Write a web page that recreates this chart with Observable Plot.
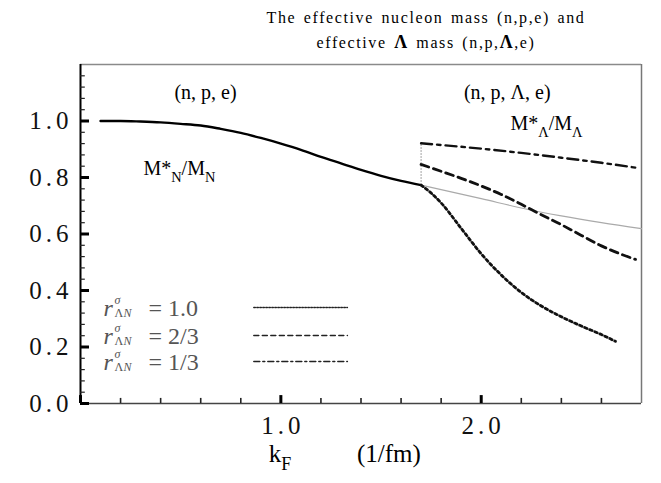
<!DOCTYPE html>
<html><head><meta charset="utf-8">
<script src="https://cdn.jsdelivr.net/npm/d3@7"></script>
<script src="https://cdn.jsdelivr.net/npm/@observablehq/plot@0.6"></script>
<style>
body{margin:0;background:#fff;}
#wrap{position:relative;width:661px;height:483px;overflow:hidden;}
#title{position:absolute;left:0;top:6px;width:661px;padding-left:191px;box-sizing:border-box;text-align:center;font-family:"Liberation Serif",serif;font-size:16px;letter-spacing:1.6px;word-spacing:2px;line-height:24px;color:#000;z-index:2}
#title b{font-size:18px}
#chart{position:absolute;left:0;top:0}
g[aria-label="y-axis tick label"] text, g[aria-label="x-axis tick label"] text{letter-spacing:4px}
g[aria-label="annot"] text{letter-spacing:1.5px}
g[aria-label="axis title"] text{letter-spacing:2px}
g[aria-label="legend"] text{letter-spacing:0.6px}
</style></head><body>
<div id="wrap"><div id="title">The effective nucleon mass (n,p,e) and<br>effective <b>Λ</b> mass (n,p,<b>Λ</b>,e)</div><div id="chart"></div></div>
<script>
// ---- data (k_F in 1/fm, effective mass ratios) ----
const nucleonK = [0.1,0.2,0.3,0.4,0.5,0.6,0.7,0.8,0.9,1.0,1.1,1.2,1.3,1.4,1.5,1.6,1.7];
const nucleonM = [1.000,1.000,0.998,0.995,0.990,0.984,0.972,0.958,0.940,0.920,0.898,0.873,0.850,0.827,0.806,0.788,0.773];
const npeContK = [1.7,1.8,1.9,2.0,2.2,2.4,2.6,2.8];
const npeContM = [0.773,0.757,0.741,0.725,0.692,0.664,0.640,0.619];
const lamK1 = [1.70,1.75,1.80,1.90,2.00,2.10,2.20,2.30,2.40,2.50,2.60,2.67];
const lamM1 = [0.773,0.745,0.710,0.620,0.530,0.455,0.393,0.345,0.307,0.274,0.244,0.220];
const lamK23 = [1.7,1.8,1.9,2.0,2.1,2.2,2.3,2.4,2.5,2.6,2.7,2.77];
const lamM23 = [0.846,0.822,0.797,0.770,0.740,0.705,0.668,0.633,0.595,0.558,0.528,0.510];
const lamK13 = [1.7,2.0,2.2,2.4,2.6,2.77];
const lamM13 = [0.921,0.902,0.887,0.870,0.852,0.835];
const thresholdK = [1.7];
const thresholdM = [0.773, 0.921];
const legendLabels = ["= 1.0","= 2/3","= 1/3"];
const legendY = [0.340,0.241,0.149];
const legendLineX = [0.865,1.332];
const yLabelTicks = [0,0.2,0.4,0.6,0.8,1.0];
const yMinorTicks = [0.04,0.08,0.12,0.16,0.24,0.28,0.32,0.36,0.44,0.48,0.52,0.56,0.64,0.68,0.72,0.76,0.84,0.88,0.92,0.96,1.04,1.08,1.12,1.16];
const xLabelTicks = [1.0,2.0];
const xMajorTicks = [0,1.0,2.0];
const xMinorTicks = [0.2,0.4,0.6,0.8,1.2,1.4,1.6,1.8,2.2,2.4,2.6];

const pts = (K, M) => K.map((k, i) => ({k, m: M[i]}));
const serif = "Liberation Serif, serif";

function rich(fs) {
  return (index, scales, values, dims, ctx, next) => {
    const g = next(index, scales, values, dims, ctx);
    g.querySelectorAll("text").forEach(t => {
      const s = t.textContent; t.textContent = "";
      const re = /_\{([^}]*)\}|\^\{([^}]*)\}|([^_^]+)/g;
      let m, shift = 0;
      while ((m = re.exec(s))) {
        const ts = document.createElementNS("http://www.w3.org/2000/svg", "tspan");
        let target = 0;
        if (m[1] != null) { ts.textContent = m[1]; ts.setAttribute("font-size", fs * 0.72); target = fs * 0.35; }
        else if (m[2] != null) { ts.textContent = m[2]; ts.setAttribute("font-size", fs * 0.72); target = -fs * 0.4; }
        else { ts.textContent = m[3]; }
        ts.setAttribute("dy", target - shift); shift = target;
        t.appendChild(ts);
      }
    });
    return g;
  };
}

const legendData = legendLabels.map((l, i) => ({l, y: legendY[i]}));
const legendDash = ["1.5,1.5", "5,3.5", "6,3,2,3"];
const legendLines = legendY.flatMap((y, i) => legendLineX.map(x => ({x, y, s: i})));
const lg = {x: 0.115, y: "y", textAnchor: "start", fontFamily: serif, fill: "#555", ariaLabel: "legend"};

const chart = Plot.plot({
  width: 661, height: 483,
  marginLeft: 80, marginRight: 20, marginTop: 64, marginBottom: 80,
  x: {domain: [0, 2.8]},
  y: {domain: [0, 1.2]},
  style: {background: "transparent"},
  marks: [
    // frame
    Plot.ruleY([1.2], {stroke: "#8a8a8a", strokeWidth: 1.5}),
    Plot.ruleX([2.8], {stroke: "#777", strokeWidth: 1.5}),
    Plot.ruleY([0], {stroke: "#444", strokeWidth: 1.6}),
    Plot.ruleX([0], {stroke: "#000", strokeWidth: 2}),
    // ticks (inward)
    Plot.ruleY(yMinorTicks, {y: d => d, x1: 0, x2: 0.024, stroke: "#222", strokeWidth: 1.2}),
    Plot.ruleY(yLabelTicks, {y: d => d, x1: 0, x2: 0.045, stroke: "#000", strokeWidth: 3}),
    Plot.ruleX(xMinorTicks, {x: d => d, y1: 0, y2: 0.018, stroke: "#222", strokeWidth: 1.6}),
    Plot.ruleX(xMajorTicks, {x: d => d, y1: 0, y2: 0.028, stroke: "#000", strokeWidth: 3}),
    Plot.axisY(yLabelTicks, {tickSize: 0, tickPadding: 8, tickFormat: d3.format(".1f"), fontSize: 25, fontFamily: serif, fill: "#111", label: null}),
    Plot.axisX(xLabelTicks, {tickSize: 0, tickPadding: 13, tickFormat: d3.format(".1f"), fontSize: 25, fontFamily: serif, fill: "#111", label: null, dx: 2}),
    Plot.text(["k_{F}"], {x: 0.94, frameAnchor: "bottom", dy: 58, textAnchor: "start", fontSize: 25, fontFamily: serif, ariaLabel: "axis title", render: rich(25)}),
    Plot.text(["(1/fm)"], {x: 1.38, frameAnchor: "bottom", dy: 58, textAnchor: "start", fontSize: 25, fontFamily: serif, ariaLabel: "axis title"}),
    // curves
    Plot.line(pts(npeContK, npeContM), {x: "k", y: "m", stroke: "#aaa", strokeWidth: 1.2, curve: "monotone-x"}),
    Plot.ruleX(thresholdK, {x: d => d, y1: thresholdM[0], y2: thresholdM[1], stroke: "#999", strokeWidth: 1.2, strokeDasharray: "1.5,1.5"}),
    Plot.line(pts(nucleonK, nucleonM), {x: "k", y: "m", stroke: "#000", strokeWidth: 2.4, curve: "monotone-x"}),
    Plot.line(pts(lamK1, lamM1), {x: "k", y: "m", stroke: "#111", strokeWidth: 2.8, strokeDasharray: "2.5,3", curve: "monotone-x"}),
    Plot.line(pts(lamK23, lamM23), {x: "k", y: "m", stroke: "#111", strokeWidth: 2.8, strokeDasharray: "8,5", curve: "monotone-x"}),
    Plot.line(pts(lamK13, lamM13), {x: "k", y: "m", stroke: "#111", strokeWidth: 2.4, strokeDasharray: "11,5,3.5,5", curve: "monotone-x"}),
    // annotations
    Plot.text(["(n, p, e)"], {x: 0.624, y: 1.099, fontSize: 20, fontFamily: serif, ariaLabel: "annot"}),
    Plot.text(["(n, p, Λ, e)"], {x: 2.13, y: 1.099, fontSize: 20, fontFamily: serif, ariaLabel: "annot"}),
    Plot.text(["M*_{N}/M_{N}"], {x: 0.314, y: 0.83, textAnchor: "start", fontSize: 20, fontFamily: serif, ariaLabel: "annot", render: rich(20)}),
    Plot.text(["M*_{Λ}/M_{Λ}"], {x: 2.146, y: 0.99, textAnchor: "start", fontSize: 20, fontFamily: serif, ariaLabel: "annot", render: rich(20)}),
    // legend
    Plot.line(legendLines.filter(d => d.s === 0), {x: "x", y: "y", stroke: "#222", strokeWidth: 1.5, strokeDasharray: legendDash[0]}),
    Plot.line(legendLines.filter(d => d.s === 1), {x: "x", y: "y", stroke: "#222", strokeWidth: 1.5, strokeDasharray: legendDash[1]}),
    Plot.line(legendLines.filter(d => d.s === 2), {x: "x", y: "y", stroke: "#222", strokeWidth: 1.5, strokeDasharray: legendDash[2]}),
    Plot.text(legendData, {...lg, text: () => "r", dy: 1, fontSize: 24, fontStyle: "italic"}),
    Plot.text(legendData, {...lg, text: () => "σ", dx: 11, dy: -7, fontSize: 12, fontStyle: "italic"}),
    Plot.text(legendData, {...lg, text: () => "Λ", dx: 11, dy: 6, fontSize: 12}),
    Plot.text(legendData, {...lg, text: () => "N", dx: 20, dy: 6, fontSize: 12, fontStyle: "italic"}),
    Plot.text(legendData, {...lg, text: "l", dx: 45, dy: 1, fontSize: 24})
  ]
});
document.getElementById("chart").appendChild(chart);
</script>
</body></html>
